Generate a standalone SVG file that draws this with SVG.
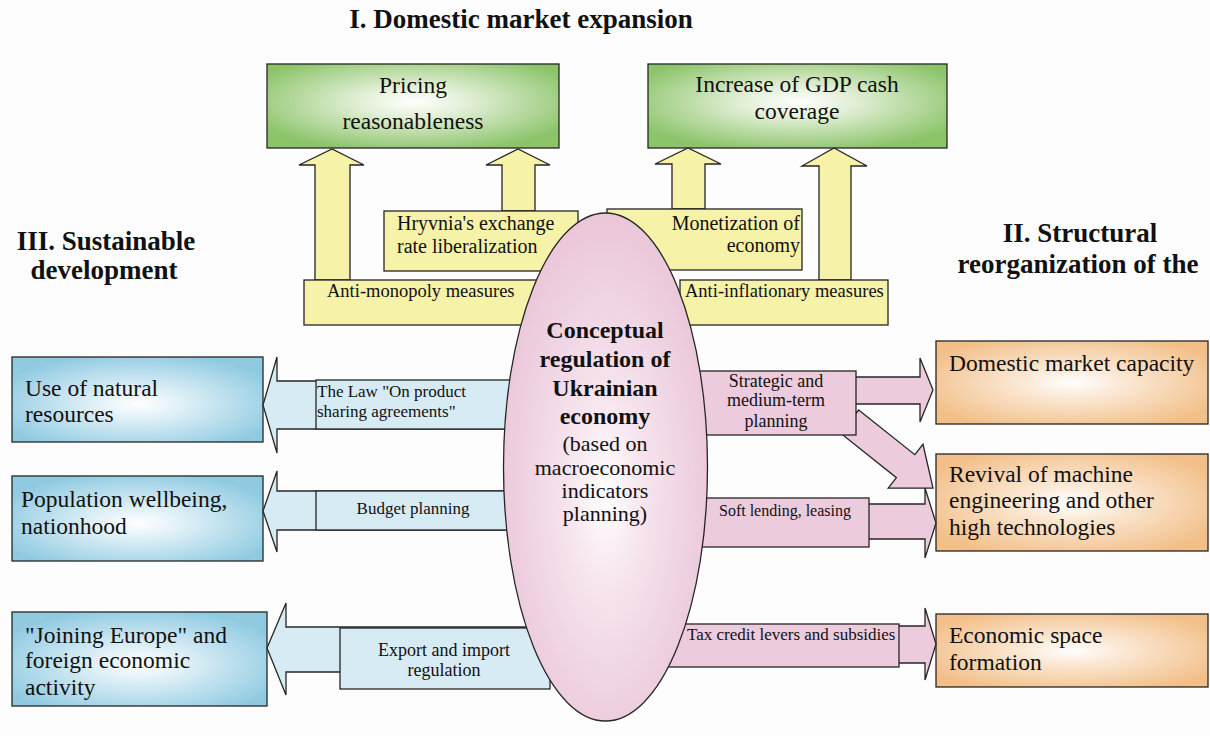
<svg xmlns="http://www.w3.org/2000/svg" width="1210" height="736" viewBox="0 0 1210 736">
<defs>
<radialGradient id="gGreen" cx="0.5" cy="0.45" r="0.6">
<stop offset="0" stop-color="#ffffff"/>
<stop offset="0.3" stop-color="#e3f0d8"/>
<stop offset="1" stop-color="#8cc46a"/>
</radialGradient>
<radialGradient id="gBlue" cx="0.5" cy="0.55" r="0.6">
<stop offset="0" stop-color="#ffffff"/>
<stop offset="0.3" stop-color="#dff0f7"/>
<stop offset="1" stop-color="#8fcae1"/>
</radialGradient>
<radialGradient id="gOrange" cx="0.5" cy="0.5" r="0.6">
<stop offset="0" stop-color="#ffffff"/>
<stop offset="0.3" stop-color="#fbe9d6"/>
<stop offset="1" stop-color="#f2bf88"/>
</radialGradient>
<radialGradient id="gPink" cx="0.5" cy="0.55" r="0.55">
<stop offset="0" stop-color="#ffffff"/>
<stop offset="0.35" stop-color="#f6e4ee"/>
<stop offset="1" stop-color="#eac6d9"/>
</radialGradient>
</defs>
<style>
.ln{stroke:#262626;stroke-width:1.3}
.yel{fill:#f6f2a8}
.blu{fill:#d7ebf4}
.pnk{fill:#eccbdc}
.t{font-family:"Liberation Serif","Times New Roman",serif;fill:#111}
.ttl{font-size:27px;font-weight:bold}
.big{font-size:23.5px}
.m20{font-size:20px}
.m18{font-size:18.5px}
.s17{font-size:17px}
.s16{font-size:16px}
.s18{font-size:18px}
</style>
<rect x="0" y="0" width="1210" height="736" fill="#fdfdfd"/>

<g id="titles">
<text class="t ttl" x="521" y="28" text-anchor="middle">I. Domestic market expansion</text>
<text class="t ttl" x="106" y="250" text-anchor="middle">III. Sustainable</text>
<text class="t ttl" x="104" y="279" text-anchor="middle">development</text>
<text class="t ttl" x="1080" y="242" text-anchor="middle">II. Structural</text>
<text class="t ttl" x="1078" y="273" text-anchor="middle">reorganization of the</text>
</g>

<g id="node-pricing">
<rect class="ln" x="267" y="64" width="292" height="84" fill="url(#gGreen)"/>
<text class="t big" x="413" y="93" text-anchor="middle">Pricing</text>
<text class="t big" x="413" y="129" text-anchor="middle">reasonableness</text>
</g>
<g id="node-gdp">
<rect class="ln" x="648" y="64" width="299" height="84" fill="url(#gGreen)"/>
<text class="t big" x="797" y="92" text-anchor="middle">Increase of GDP cash</text>
<text class="t big" x="797" y="119" text-anchor="middle">coverage</text>
</g>

<g id="node-natural">
<rect class="ln" x="12" y="357" width="251" height="85" fill="url(#gBlue)"/>
<text class="t big" x="25" y="396">Use of natural</text>
<text class="t big" x="25" y="422">resources</text>
</g>
<g id="node-population">
<rect class="ln" x="12" y="476" width="251" height="85" fill="url(#gBlue)"/>
<text class="t big" x="21" y="507">Population wellbeing,</text>
<text class="t big" x="21" y="534">nationhood</text>
</g>
<g id="node-europe">
<rect class="ln" x="12" y="612" width="255" height="94" fill="url(#gBlue)"/>
<text class="t big" x="25" y="643">"Joining Europe" and</text>
<text class="t big" x="25" y="668">foreign economic</text>
<text class="t big" x="25" y="695">activity</text>
</g>

<g id="node-capacity">
<rect class="ln" x="936" y="341" width="272" height="83" fill="url(#gOrange)"/>
<text class="t big" x="949" y="371">Domestic market capacity</text>
</g>
<g id="node-revival">
<rect class="ln" x="936" y="454" width="272" height="97" fill="url(#gOrange)"/>
<text class="t big" x="949" y="482">Revival of machine</text>
<text class="t big" x="949" y="508">engineering and other</text>
<text class="t big" x="949" y="535">high technologies</text>
</g>
<g id="node-space">
<rect class="ln" x="936" y="614" width="272" height="73" fill="url(#gOrange)"/>
<text class="t big" x="949" y="643">Economic space</text>
<text class="t big" x="949" y="670">formation</text>
</g>

<g id="connectors">
<polygon class="ln yel" points="315,280 315,165 299,165 332,149 364,165 350,165 350,280"/>
<polygon class="ln yel" points="502,211 502,165 486,165 518,149 550,165 535,165 535,211"/>
<polygon class="ln yel" points="672,209 672,164 655,164 688,148 721,164 705,164 705,209"/>
<polygon class="ln yel" points="819,280 819,166 802,166 834,148 867,166 851,166 851,280"/>

<polygon class="ln blu" points="530,381 277,381 277,357 263,405 277,453 277,429 530,429"/>
<polygon class="ln blu" points="530,491 277,491 277,471 263,511 277,552 277,530 530,530"/>
<polygon class="ln blu" points="550,627 286,627 286,603 267,648 286,695 286,672 550,672"/>

<polygon class="ln pnk" points="690,377 920,377 920,358 933,390 920,422 920,404 690,404"/>
<polygon class="ln pnk" points="858.7,410 914.8,454.7 923,444.3 933,488 888.2,488.1 896.4,477.7 840.3,433"/>
<polygon class="ln pnk" points="690,504 925,504 925,488 936,523 925,558 925,539 690,539"/>
<polygon class="ln pnk" points="660,626 925,626 925,608 936,644 925,680 925,663 660,663"/>

<g id="label-law">
<rect class="ln blu" x="316" y="380" width="214" height="49"/>
<text class="t s17" x="317" y="397">The Law "On product</text>
<text class="t s17" x="317" y="417">sharing agreements"</text>
</g>
<g id="label-budget">
<rect class="ln blu" x="316" y="491" width="214" height="39"/>
<text class="t s17" x="413" y="514" text-anchor="middle">Budget planning</text>
</g>
<g id="label-export">
<rect class="ln blu" x="340" y="628" width="210" height="61"/>
<text class="t s18" x="444" y="656" text-anchor="middle">Export and import</text>
<text class="t s18" x="444" y="676" text-anchor="middle">regulation</text>
</g>
<g id="label-strategic">
<rect class="ln pnk" x="690" y="371" width="166" height="64"/>
<text class="t s18" x="776" y="387" text-anchor="middle">Strategic and</text>
<text class="t s18" x="776" y="406" text-anchor="middle">medium-term</text>
<text class="t s18" x="776" y="427" text-anchor="middle">planning</text>
</g>
<g id="label-lending">
<rect class="ln pnk" x="690" y="498" width="179" height="49"/>
<text class="t s16" x="785" y="516" text-anchor="middle">Soft lending, leasing</text>
</g>
<g id="label-tax">
<rect class="ln pnk" x="660" y="624" width="239" height="43"/>
<text class="t s17" x="687" y="640">Tax credit levers and subsidies</text>
</g>
</g>

<g id="node-antimonopoly">
<rect class="ln yel" x="304" y="280" width="256" height="45"/>
<text class="t m18" x="327" y="297">Anti-monopoly measures</text>
</g>
<g id="node-hryvnia">
<rect class="ln yel" x="384" y="211" width="194" height="60"/>
<text class="t m20" x="397" y="230">Hryvnia's exchange</text>
<text class="t m20" x="397" y="253">rate liberalization</text>
</g>
<g id="node-monetization">
<rect class="ln yel" x="607" y="209" width="195" height="61"/>
<text class="t m20" x="800" y="230" text-anchor="end">Monetization of</text>
<text class="t m20" x="800" y="252" text-anchor="end">economy</text>
</g>
<g id="node-antiinflation">
<rect class="ln yel" x="680" y="280" width="208" height="45"/>
<text class="t m18" x="685" y="297">Anti-inflationary measures</text>
</g>

<g id="node-center">
<ellipse class="ln" cx="605.5" cy="467" rx="102" ry="254" fill="url(#gPink)"/>
<text class="t" x="605" y="338" text-anchor="middle" font-size="24" font-weight="bold">Conceptual</text>
<text class="t" x="605" y="367" text-anchor="middle" font-size="24" font-weight="bold">regulation of</text>
<text class="t" x="605" y="396" text-anchor="middle" font-size="24" font-weight="bold">Ukrainian</text>
<text class="t" x="605" y="424" text-anchor="middle" font-size="24" font-weight="bold">economy</text>
<text class="t" x="605" y="451" text-anchor="middle" font-size="22">(based on</text>
<text class="t" x="605" y="475" text-anchor="middle" font-size="22">macroeconomic</text>
<text class="t" x="605" y="498" text-anchor="middle" font-size="22">indicators</text>
<text class="t" x="605" y="521" text-anchor="middle" font-size="22">planning)</text>
</g>
</svg>
